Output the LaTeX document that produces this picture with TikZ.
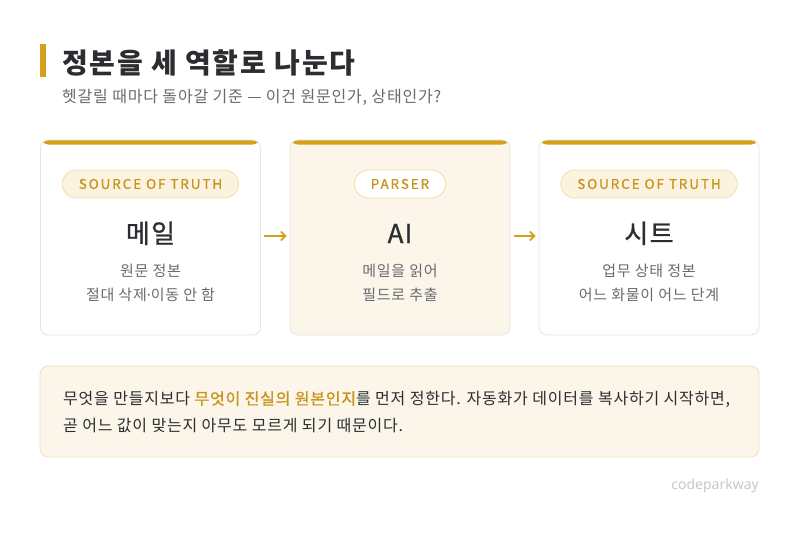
\documentclass[tikz,border=0pt]{standalone}
\usepackage{fontspec}
\setmainfont{Noto Sans CJK KR}[LetterSpace=5]
\newfontfamily\medfont[LetterSpace=5,FakeBold=1]{Noto Sans CJK KR}
\newfontfamily\pillfont[LetterSpace=14,FakeBold=0.6]{Noto Sans CJK KR}
\newfontfamily\latinfont{Noto Sans}
\usetikzlibrary{arrows.meta}

\definecolor{gold}{HTML}{D4A017}
\definecolor{goldtext}{HTML}{C8951C}
\definecolor{cream}{HTML}{FBF5EA}
\definecolor{pillfill}{HTML}{FBF2E0}
\definecolor{pillline}{HTML}{F1DDA9}
\definecolor{noteline}{HTML}{F2E2B6}
\definecolor{cardline}{HTML}{E5E5E5}
\definecolor{ink}{HTML}{2B2D31}
\definecolor{muted}{HTML}{676A70}
\definecolor{wmgray}{HTML}{C5C8CC}

\tikzset{
  card/.style={draw=cardline, line width=0.8pt, rounded corners=8pt,
    minimum width=220pt, minimum height=195pt,
    path picture={\fill[gold] ([yshift=2pt]path picture bounding box.north west)
      rectangle ([yshift=-4.5pt]path picture bounding box.north east);}},
  pill/.style={draw=pillline, line width=0.8pt, fill=pillfill, rounded corners=14pt,
    minimum height=28pt, inner xsep=16.5pt, text=goldtext,
    font=\pillfont\fontsize{13.5}{13.5}\selectfont},
  cardtitle/.style={anchor=base, text=ink, font=\medfont\fontsize{26}{26}\selectfont},
  cardtext/.style={align=center, text=muted, font=\fontsize{15}{24}\selectfont},
  flow/.style={draw=gold, line width=1.7pt, -{Straight Barb[length=4.5pt,width=9pt]},
    shorten <=3.5pt, shorten >=3pt}
}

\begin{document}
\begin{tikzpicture}[x=1pt,y=1pt]
\tikzstyle{every node}+=[inner sep=0pt]
\fill[white] (0,0) rectangle (800,-538);
\useasboundingbox (0,0) rectangle (800,-538);
% heading
\fill[gold] (40,-44) rectangle (46,-77);
\node[anchor=base west, text=ink, font=\bfseries\fontsize{28}{28}\selectfont\addfontfeatures{LetterSpace=6.5}] (title) at (62,-73) {정본을 세 역할로 나눈다};
\node[anchor=base west, text=muted, font=\fontsize{16}{16}\selectfont] (subtitle) at (62,-102) {헷갈릴 때마다 돌아갈 기준 — 이건 원문인가, 상태인가?};
% three cards
\node[card, fill=white] (mail) at (150.5,-237.5) {};
\node[card, fill=cream] (ai) at (400,-237.5) {};
\node[card, fill=white] (sheet) at (649,-237.5) {};
\node[pill] (mailtag) at (150.5,-184) {SOURCE OF TRUTH};
\node[pill, fill=white] (aitag) at (400,-184) {PARSER};
\node[pill] (sheettag) at (649,-184) {SOURCE OF TRUTH};
\node[cardtitle] (mailname) at (150.5,-243) {메일};
\node[cardtitle] (ainame) at (400,-243) {AI};
\node[cardtitle] (sheetname) at (649,-243) {시트};
\node[cardtext] (mailnote) at (150.5,-283) {원문 정본\\절대 삭제{\latinfont ·}이동 안 함};
\node[cardtext] (ainote) at (400,-283) {메일을 읽어\\필드로 추출};
\node[cardtext] (sheetnote) at (649,-283) {업무 상태 정본\\어느 화물이 어느 단계};
\draw[flow] ([yshift=1.5pt]mail.east) -- ([yshift=1.5pt]ai.west);
\draw[flow] ([yshift=1.5pt]ai.east) -- ([yshift=1.5pt]sheet.west);
% bottom note
\node[draw=noteline, line width=0.8pt, fill=cream, rounded corners=8pt, minimum width=719pt, minimum height=91pt] (note) at (399.5,-411.5) {};
\node[anchor=west, align=left, text=ink, font=\fontsize{16}{27}\selectfont] (notetext) at (63,-412) {무엇을 만들지보다 {\medfont\color{goldtext}무엇이 진실의 원본인지}를 먼저 정한다. 자동화가 데이터를 복사하기 시작하면,\\곧 어느 값이 맞는지 아무도 모르게 되기 때문이다.};
\node[anchor=base east, text=wmgray, font=\latinfont\fontsize{14}{14}\selectfont] (brand) at (759,-489) {codeparkway};
\end{tikzpicture}
\end{document}
